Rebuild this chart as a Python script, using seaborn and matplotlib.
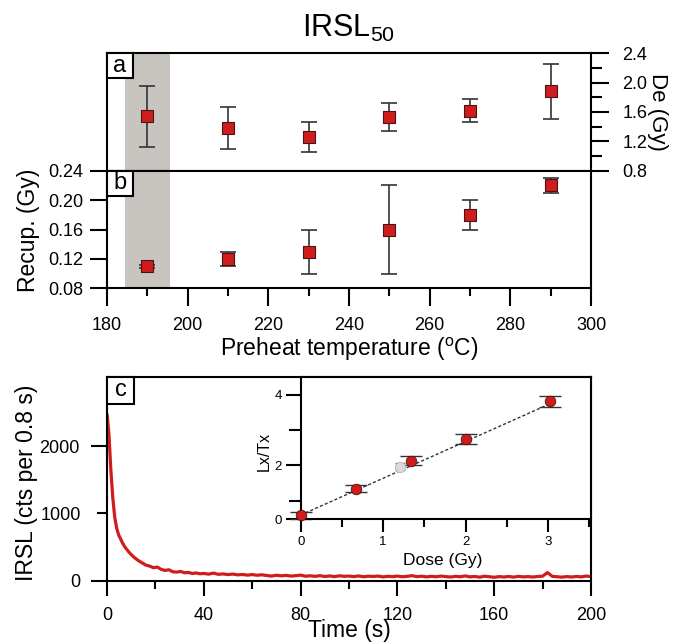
import numpy as np
import pandas as pd
import matplotlib
matplotlib.use('Agg')
import matplotlib.pyplot as plt
from matplotlib.patches import Rectangle
from matplotlib.ticker import MultipleLocator
import seaborn as sns

sns.set_style('ticks')
plt.rcParams['font.family'] = ['Liberation Sans', 'DejaVu Sans']
plt.rcParams['mathtext.default'] = 'regular'
for key in ['text.color', 'axes.labelcolor', 'xtick.color', 'ytick.color', 'axes.edgecolor']:
    plt.rcParams[key] = 'black'

# --- data ---
preheat = [190, 210, 230, 250, 270, 290]
de_gy = [1.54, 1.38, 1.26, 1.53, 1.62, 1.88]
de_err = [0.42, 0.29, 0.21, 0.19, 0.16, 0.37]
recup_gy = [0.11, 0.12, 0.13, 0.16, 0.18, 0.22]
recup_err = [0.002, 0.01, 0.03, 0.06, 0.02, 0.01]
chosen_band = [184.5, 195.5]

dose_gy = [0.0, 0.67, 1.34, 2.01, 3.02]
lxtx = [0.6, 1.35, 2.14, 2.75, 3.81]
lxtx_err = [0.1, 0.1, 0.12, 0.13, 0.16]
nat_dose = [1.2]
nat_lxtx = [1.97]
nat_err = [0.1]
fit_dose = [0.0, 3.0]
fit_lxtx = [0.6, 3.72]

time_early = [0, 0.8, 1.6, 2.4, 3.2, 4.0, 4.8, 5.6, 6.4, 7.2, 8.0, 9.6, 11.2, 12.8, 14.4,
              16.0, 17.6, 19.2, 20.8, 22.4, 24.0, 25.6, 27.2, 28.8, 30.4, 32.0, 33.6, 35.2, 36.8, 38.4]
counts_early = [2480, 2180, 1640, 1230, 940, 780, 680, 620, 560, 510, 470, 400, 345, 300, 265,
                230, 215, 190, 200, 165, 150, 160, 130, 125, 135, 115, 120, 105, 112, 100]
time_tail = list(range(40, 201, 2))
counts_tail = [105, 95, 110, 92, 98, 88, 96, 84, 90, 80,
               88, 78, 85, 74, 66, 78, 70, 76, 66, 72,
               80, 64, 70, 62, 72, 60, 68, 58, 70, 62,
               66, 58, 68, 56, 64, 60, 66, 54, 62, 58,
               66, 56, 62, 72, 58, 64, 54, 62, 56, 66,
               58, 52, 62, 56, 68, 54, 60, 50, 64, 56,
               48, 58, 52, 60, 50, 62, 54, 58, 52, 60,
               64, 118, 62, 56, 50, 58, 52, 60, 54, 66,
               58]

decay = pd.DataFrame({'Time': time_early + time_tail, 'IRSL': counts_early + counts_tail})

red = '#d01c1c'
edge = '#4a1414'
ebar = '#333333'
TICK = 13
LAB = 16.5

fig = plt.figure(figsize=(6.74, 6.42), dpi=100)
W, H = 674, 642


def px_axes(l, t, r, b):
    return fig.add_axes([l / W, 1 - b / H, (r - l) / W, (b - t) / H])


ax_a = px_axes(107, 53.3, 591, 170.7)
ax_b = px_axes(107, 170.7, 591, 288.3)
ax_c = px_axes(107, 377, 591, 580.5)
ax_i = px_axes(300.7, 377, 591, 519.3)

for ax in (ax_a, ax_b, ax_c, ax_i):
    for s in ax.spines.values():
        s.set_linewidth(1.5)
        s.set_color('black')


def panel_tag(ax, letter, wpx=26, hpx=25):
    bb = ax.get_position()
    w = wpx / (bb.width * W)
    h = hpx / (bb.height * H)
    ax.add_patch(Rectangle((0, 1 - h), w, h, transform=ax.transAxes, fc='white',
                           ec='black', lw=1.5, zorder=5, clip_on=False))
    ax.text(w / 2, 1 - h / 2, letter, transform=ax.transAxes, ha='center', va='center',
            fontsize=17, zorder=6)


# --- panel a: De vs preheat ---
ax_a.axvspan(*chosen_band, color='#c8c5c0', lw=0, zorder=0)
ax_a.errorbar(preheat, de_gy, yerr=de_err, fmt='none', ecolor=ebar, elinewidth=1.2,
              capsize=6, capthick=1.2, zorder=2)
sns.scatterplot(x=preheat, y=de_gy, ax=ax_a, marker='s', s=75, color=red,
                edgecolor=edge, linewidth=0.8, zorder=3)
ax_a.set_xlim(180, 300)
ax_a.set_ylim(0.8, 2.4)
ax_a.yaxis.tick_right()
ax_a.set_yticks([0.8, 1.2, 1.6, 2.0, 2.4])
ax_a.yaxis.set_minor_locator(MultipleLocator(0.2))
ax_a.tick_params(axis='x', bottom=False, labelbottom=False)
ax_a.tick_params(axis='y', which='major', length=12.7, width=1.5, pad=10, labelsize=TICK)
ax_a.tick_params(axis='y', which='minor', length=7.7, width=1.5, right=True)
ax_a.yaxis.set_label_position('right')
ax_a.set_ylabel('De (Gy)', fontsize=16, rotation=270)
ax_a.yaxis.label.set_va('center')
ax_a.yaxis.set_label_coords(1.138, 0.5)
panel_tag(ax_a, 'a')

# --- panel b: recuperation vs preheat ---
ax_b.axvspan(*chosen_band, color='#c8c5c0', lw=0, zorder=0)
ax_b.errorbar(preheat, recup_gy, yerr=recup_err, fmt='none', ecolor=ebar, elinewidth=1.2,
              capsize=6, capthick=1.2, zorder=2)
sns.scatterplot(x=preheat, y=recup_gy, ax=ax_b, marker='s', s=75, color=red,
                edgecolor=edge, linewidth=0.8, zorder=3)
ax_b.set_xlim(180, 300)
ax_b.set_ylim(0.08, 0.24)
ax_b.set_yticks([0.08, 0.12, 0.16, 0.20, 0.24])
ax_b.set_xticks(range(180, 301, 20))
ax_b.xaxis.set_minor_locator(MultipleLocator(10))
ax_b.tick_params(axis='x', which='major', length=13, width=1.5, pad=8, labelsize=TICK)
ax_b.tick_params(axis='x', which='minor', length=5.5, width=1.5, bottom=True)
ax_b.tick_params(axis='y', which='major', length=12, width=1.5, pad=5, labelsize=TICK)
ax_b.set_ylabel('Recup. (Gy)', fontsize=LAB)
ax_b.yaxis.label.set_va('center')
ax_b.yaxis.set_label_coords(-0.163, 0.49)
ax_b.set_xlabel('Preheat temperature ($^{o}$C)', fontsize=LAB)
ax_b.xaxis.label.set_va('center')
ax_b.xaxis.set_label_coords(0.5, -0.52)
panel_tag(ax_b, 'b')

# --- panel c: IRSL decay curve ---
sns.lineplot(data=decay, x='Time', y='IRSL', ax=ax_c, color=red, lw=2.3)
ax_c.set_xlim(0, 200)
ax_c.set_ylim(0, 3030)
ax_c.set_xticks(range(0, 201, 40))
ax_c.xaxis.set_minor_locator(MultipleLocator(20))
ax_c.set_yticks([0, 2000])
ax_c.set_yticks([1000], ['1000'], minor=True)
ax_c.tick_params(axis='x', which='major', length=11, width=1.5, pad=8, labelsize=TICK)
ax_c.tick_params(axis='x', which='minor', length=5.5, width=1.5, bottom=True)
ax_c.tick_params(axis='y', which='major', length=11.5, width=1.5, pad=8, labelsize=TICK)
ax_c.tick_params(axis='y', which='minor', length=7, width=1.5, pad=12, labelsize=TICK, left=True)
ax_c.set_xlabel('Time (s)', fontsize=LAB)
ax_c.xaxis.label.set_va('center')
ax_c.xaxis.set_label_coords(0.5, -0.245)
ax_c.set_ylabel('IRSL (cts per 0.8 s)', fontsize=LAB)
ax_c.yaxis.label.set_va('center')
ax_c.yaxis.set_label_coords(-0.166, 0.479)
panel_tag(ax_c, 'c', 27, 27)

# --- inset: dose response ---
ax_i.set_facecolor('white')
sns.lineplot(x=fit_dose, y=fit_lxtx, ax=ax_i, color='#333333', lw=1.0,
             linestyle=(0, (2.2, 1.6)), zorder=1)
ax_i.errorbar(dose_gy, lxtx, yerr=lxtx_err, fmt='none', ecolor=ebar, elinewidth=1.0,
              capsize=7.8, capthick=1.0, zorder=2, clip_on=False)
ax_i.errorbar(nat_dose, nat_lxtx, yerr=nat_err, fmt='none', ecolor='#777777', elinewidth=1.0,
              capsize=3.5, capthick=1.0, zorder=2)
sns.scatterplot(x=nat_dose, y=nat_lxtx, ax=ax_i, marker='o', s=55, color='#d9d9d9',
                edgecolor='#b5b5b5', linewidth=0.6, zorder=3)
sns.scatterplot(x=dose_gy, y=lxtx, ax=ax_i, marker='o', s=58, color=red,
                edgecolor=edge, linewidth=0.6, zorder=4, clip_on=False)
ax_i.set_xlim(0, 3.52)
ax_i.set_ylim(0.48, 4.5)
ax_i.set_xticks([0, 1, 2, 3])
ax_i.xaxis.set_minor_locator(MultipleLocator(0.5))
ax_i.set_yticks([0.48, 2, 4], ['0', '2', '4'])
ax_i.set_yticks([1, 3], minor=True)
ax_i.tick_params(axis='x', which='major', length=9, width=1.5, pad=3, labelsize=9.5)
ax_i.tick_params(axis='x', which='minor', length=6, width=1.5, bottom=True)
ax_i.tick_params(axis='y', which='major', length=10.5, width=1.5, pad=3, labelsize=9.5)
ax_i.tick_params(axis='y', which='minor', length=9, width=1.5, left=True)
ax_i.set_xlabel('Dose (Gy)', fontsize=12.5)
ax_i.xaxis.label.set_va('center')
ax_i.xaxis.set_label_coords(0.49, -0.29)
ax_i.set_ylabel('Lx/Tx', fontsize=11.5)
ax_i.yaxis.label.set_va('center')
ax_i.yaxis.set_label_coords(-0.126, 0.476)

fig.text(349 / W, 1 - 28 / H, 'IRSL$_{50}$', ha='center', va='center', fontsize=22)

fig.savefig('out.png', dpi=100)
